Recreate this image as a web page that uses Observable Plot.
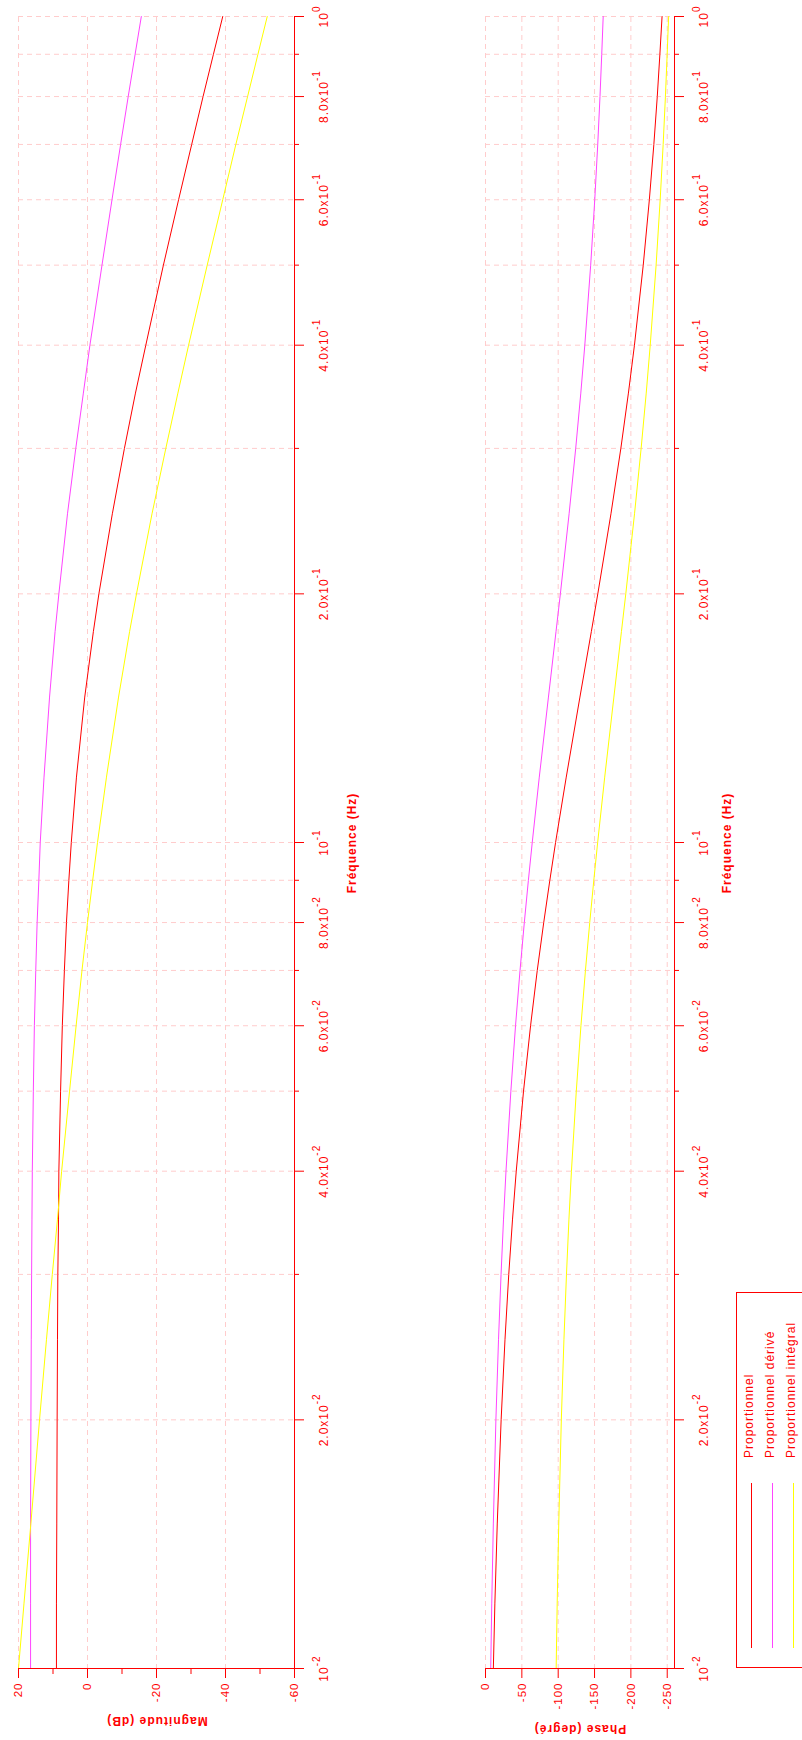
<!DOCTYPE html>
<html>
<head>
<meta charset="utf-8">
<script src="https://cdn.jsdelivr.net/npm/d3@7"></script>
<script src="https://cdn.jsdelivr.net/npm/@observablehq/plot@0.6"></script>
<style>
html, body { margin: 0; padding: 0; background: #fff; width: 802px; height: 1740px; overflow: hidden; }
#stage { position: absolute; left: 0; top: 0; width: 1740px; height: 802px; overflow: hidden; background: #fff;
  transform-origin: 0 0; transform: translate(0px, 1740px) rotate(-90deg);
  font-family: "Liberation Sans", Arial, sans-serif; color: #ff0000; }
#stage > svg, #stage > div { position: absolute; }
</style>
</head>
<body>
<div id="stage"></div>
<script>
// ---------- data ----------
const freq = [0.01, 0.012, 0.015, 0.02, 0.025, 0.03, 0.035, 0.04, 0.05, 0.06, 0.07, 0.08, 0.09, 0.1,
              0.12, 0.15, 0.18, 0.2, 0.25, 0.3, 0.35, 0.4, 0.5, 0.6, 0.7, 0.8, 0.9, 1.0];

const magP  = [9.0, 9.0, 8.9, 8.8, 8.7, 8.6, 8.4, 8.3, 7.8, 7.3, 6.7, 6.1, 5.4, 4.7,
               3.2, 0.8, -1.7, -3.3, -7.2, -10.7, -13.9, -16.9, -22.0, -26.4, -30.2, -33.5, -36.5, -39.2];
const magPD = [16.5, 16.5, 16.5, 16.4, 16.3, 16.2, 16.1, 16.0, 15.7, 15.4, 15.0, 14.6, 14.1, 13.7,
               12.6, 11.0, 9.4, 8.3, 5.8, 3.4, 1.2, -0.7, -4.2, -7.1, -9.6, -11.8, -13.8, -15.6];
const magPI = [20.0, 18.4, 16.4, 13.9, 11.9, 10.2, 8.7, 7.5, 5.2, 3.3, 1.6, 0.0, -1.5, -2.9,
               -5.5, -9.0, -12.2, -14.2, -18.7, -22.7, -26.2, -29.3, -34.7, -39.2, -43.0, -46.4, -49.4, -52.1];

const phP  = [-10.8, -12.9, -16.2, -21.5, -26.8, -32.0, -37.2, -42.3, -52.3, -62.0, -71.2, -80.1, -88.5, -96.4,
              -111.1, -129.9, -145.6, -154.5, -172.6, -186.2, -196.6, -204.9, -217.0, -225.4, -231.6, -236.3, -239.9, -242.9];
const phPD = [-7.2, -8.6, -10.8, -14.3, -17.9, -21.4, -24.8, -28.2, -34.9, -41.3, -47.5, -53.4, -59.0, -64.3,
              -74.0, -86.6, -97.0, -103.0, -115.0, -124.1, -131.1, -136.6, -144.7, -150.3, -154.4, -157.5, -159.9, -161.9];
const phPI = [-97.2, -98.6, -100.8, -104.3, -107.9, -111.4, -114.8, -118.2, -124.9, -131.3, -137.5, -143.4, -149.0, -154.3,
              -164.0, -176.6, -187.0, -193.0, -205.0, -214.1, -221.1, -226.6, -234.7, -240.3, -244.4, -247.5, -249.9, -251.9];

const seriesNames  = ["Proportionnel", "Proportionnel dérivé", "Proportionnel intégral"];
const seriesColors = ["#ff0000", "#ff44ff", "#ffff00"];

const freqMajor = [0.01, 0.02, 0.04, 0.06, 0.08, 0.1, 0.2, 0.4, 0.6, 0.8, 1];
const freqMajorLabels = ["10^-2", "2.0x10^-2", "4.0x10^-2", "6.0x10^-2", "8.0x10^-2", "10^-1",
                         "2.0x10^-1", "4.0x10^-1", "6.0x10^-1", "8.0x10^-1", "10^0"];
const freqMinor = [0.03, 0.05, 0.07, 0.09, 0.3, 0.5, 0.7, 0.9];
const freqGrid  = [0.01, 0.02, 0.03, 0.04, 0.05, 0.06, 0.07, 0.08, 0.09,
                   0.1, 0.2, 0.3, 0.4, 0.5, 0.6, 0.7, 0.8, 0.9, 1];
const magMajor   = [20, 0, -20, -40, -60];
const magMinor   = [10, -10, -30, -50];
const phaseMajor = [0, -50, -100, -150, -200, -250];

const magTitle = "Magnitude (dB)";
const phaseTitle = "Phase (degré)";
const freqTitle = "Fréquence (Hz)";

// ---------- build ----------
const AX = "#ff0000", GRID = "#ffcccc";
const FONT = "'Liberation Sans', Arial, sans-serif";
const stage = document.getElementById("stage");

const magSeries = [magP, magPD, magPI], phSeries = [phP, phPD, phPI];
const magRows = [], phRows = [];
seriesNames.forEach((s, k) => freq.forEach((f, i) => {
  magRows.push({f, v: magSeries[k][i], s});
  phRows.push({f, v: phSeries[k][i], s});
}));

function supers(svg) {
  svg.querySelectorAll("text").forEach(t => {
    const s = t.textContent;
    if (s.includes("^")) {
      const [a, b] = s.split("^");
      t.textContent = a;
      const ts = document.createElementNS("http://www.w3.org/2000/svg", "tspan");
      ts.setAttribute("dy", "-8");
      ts.setAttribute("font-size", "10");
      ts.textContent = b;
      t.appendChild(ts);
    }
  });
}

function panel(rows, yDomain, yMajor, yMinor, height, mt, mb) {
  const marks = [
    Plot.gridX(freqGrid, {stroke: GRID, strokeOpacity: 1, strokeDasharray: "5,4"}),
    Plot.gridY(yMajor, {stroke: GRID, strokeOpacity: 1, strokeDasharray: "5,4"}),
    Plot.line(rows, {x: "f", y: "v", stroke: "s", strokeWidth: 1}),
    Plot.ruleY([yDomain[0]], {stroke: AX}),
    Plot.ruleX([0.01], {stroke: AX}),
    Plot.axisX(freqMajor, {tickSize: 10, tickPadding: 15, label: null, color: AX, fontSize: 12,
      tickFormat: d => freqMajorLabels[freqMajor.indexOf(d)]}),
    Plot.axisX(freqMinor, {tickSize: 5, label: null, color: AX, tickFormat: () => ""}),
    Plot.axisY(yMajor, {tickSize: 9, tickPadding: 5, label: null, color: AX, fontSize: 11.5, tickFormat: d => String(d)})
  ];
  if (yMinor) marks.push(Plot.axisY(yMinor, {tickSize: 5, label: null, color: AX, tickFormat: () => ""}));
  const svg = Plot.plot({
    width: 1740, height, marginLeft: 71, marginRight: 17, marginTop: mt, marginBottom: mb,
    x: {type: "log", domain: [0.01, 1]},
    y: {domain: yDomain},
    color: {domain: seriesNames, range: seriesColors},
    style: {background: "transparent", fontFamily: FONT, fontSize: "12px", color: AX, letterSpacing: "1px", overflow: "visible"},
    marks
  });
  supers(svg);
  return svg;
}

const magSvg = panel(magRows, [-60, 20], magMajor, magMinor, 380, 18, 86);
magSvg.style.left = "0px"; magSvg.style.top = "0px";
stage.appendChild(magSvg);

const phSvg = panel(phRows, [-260, 0], phaseMajor, null, 402, 85, 128);
phSvg.style.left = "0px"; phSvg.style.top = "400px";
stage.appendChild(phSvg);

function title(txt, cx, cy, rot) {
  const d = document.createElement("div");
  d.textContent = txt;
  d.style.cssText = `left:${cx}px;top:${cy}px;transform:translate(-50%,-50%)${rot ? " rotate(-90deg)" : ""};` +
    `font:bold 12px ${FONT};letter-spacing:1px;color:${AX};white-space:nowrap;line-height:12px;`;
  stage.appendChild(d);
}
title(magTitle, 19, 157, true);
title(phaseTitle, 11, 580, true);
title(freqTitle, 897, 351.5, false);
title(freqTitle, 897, 726.5, false);

// legend
const NS = "http://www.w3.org/2000/svg";
const lg = document.createElementNS(NS, "svg");
lg.setAttribute("width", 380); lg.setAttribute("height", 130);
lg.style.left = "72px"; lg.style.top = "736px";
const box = document.createElementNS(NS, "rect");
box.setAttribute("x", 0.5); box.setAttribute("y", 0.5); box.setAttribute("width", 375); box.setAttribute("height", 120);
box.setAttribute("fill", "#fff"); box.setAttribute("stroke", AX);
lg.appendChild(box);
seriesNames.forEach((n, i) => {
  const y = 15.5 + i * 21;
  const ln = document.createElementNS(NS, "line");
  ln.setAttribute("x1", 20); ln.setAttribute("x2", 185); ln.setAttribute("y1", y); ln.setAttribute("y2", y);
  ln.setAttribute("stroke", seriesColors[i]); ln.setAttribute("stroke-width", 1);
  lg.appendChild(ln);
  const tx = document.createElementNS(NS, "text");
  tx.setAttribute("x", 210); tx.setAttribute("y", y + 1);
  tx.setAttribute("fill", AX);
  tx.setAttribute("style", `font:12px ${FONT};letter-spacing:1px`);
  tx.textContent = n;
  lg.appendChild(tx);
});
stage.appendChild(lg);
</script>
</body>
</html>
